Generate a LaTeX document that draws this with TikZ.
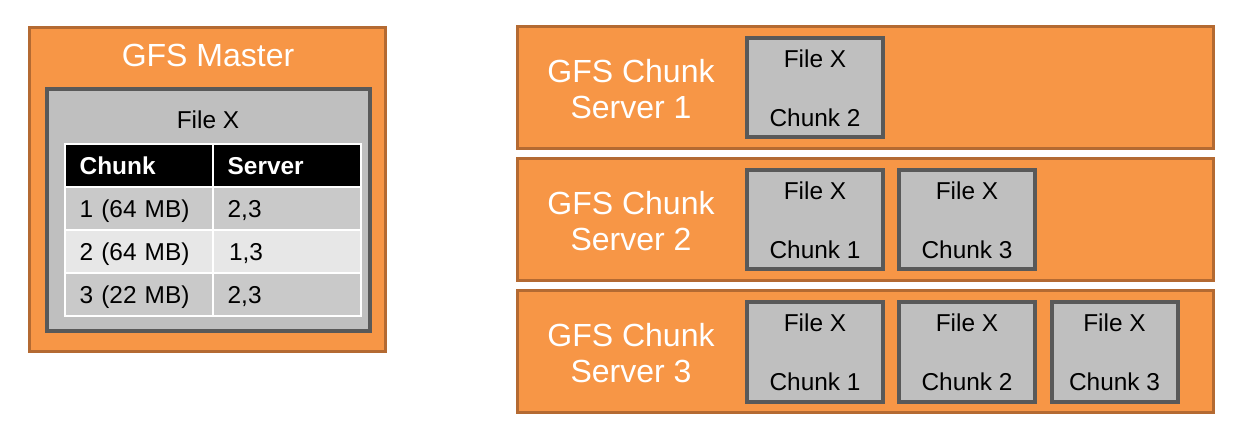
\documentclass[tikz,border=0pt]{standalone}
\usepackage{fontspec}
\setmainfont{Liberation Sans}
\usepackage{xcolor}
\usepackage{tikz}
\definecolor{gfsorange}{HTML}{F79646}
\definecolor{gfsbrown}{HTML}{B46A32}
\definecolor{gfsgray}{HTML}{BFBFBF}
\definecolor{gfsdark}{HTML}{595959}
\definecolor{rowdark}{HTML}{C9C9C9}
\definecolor{rowlight}{HTML}{E7E7E7}

\begin{document}
\begin{tikzpicture}[x=0.75pt,y=-0.75pt,
	bigfont/.style={font=\fontsize{24}{27.4}\selectfont},
	smallfont/.style={font=\fontsize{18.3}{21}\selectfont},
	orangebox/.style={draw=gfsbrown,fill=gfsorange,line width=2.25pt,inner sep=0pt},
	graybox/.style={draw=gfsdark,fill=gfsgray,line width=3pt,inner sep=0pt},
	chunkbox/.style={graybox,minimum width=102pt,minimum height=74.25pt,smallfont,align=center},
	cell/.style={draw=white,line width=1.5pt,minimum width=111pt,minimum height=32.25pt,
		inner xsep=11pt,text width=89pt,align=left,text height=13pt,text depth=0pt,smallfont},
	headcell/.style={cell,fill=black,text=white,font=\fontsize{18.3}{21}\selectfont\bfseries}]
		\useasboundingbox (0,0) rectangle (1245,434);
		%
		% master
		\node[orangebox,minimum width=267pt,minimum height=243pt] (master) at (207.5,189.5) {};
		\node[bigfont,text=white,anchor=base] (mtitle) at (208,66.7) {GFS Master};
		\node[graybox,minimum width=242.25pt,minimum height=181.5pt] (mfile) at (208.5,210) {};
		\node[smallfont,anchor=base] (mfilet) at (208,129) {File X};
		%
		\node[headcell] (h1) at (139,165.5) {Chunk};
		\node[headcell] (h2) at (287,165.5) {Server};
		\node[cell,fill=rowdark] (r1a) at (139,208.5) {1 (64 MB)};
		\node[cell,fill=rowdark] (r1b) at (287,208.5) {2,3};
		\node[cell,fill=rowlight] (r2a) at (139,251.5) {2 (64 MB)};
		\node[cell,fill=rowlight] (r2b) at (287,251.5) {\hspace{1pt}1,3};
		\node[cell,fill=rowdark] (r3a) at (139,294.5) {3 (22 MB)};
		\node[cell,fill=rowdark] (r3b) at (287,294.5) {2,3};
		%
		% chunk servers
		\node[orangebox,minimum width=522pt,minimum height=91.5pt] (srv1) at (865.5,87.5) {};
		\node[orangebox,minimum width=522pt,minimum height=91.5pt] (srv2) at (865.5,219.5) {};
		\node[orangebox,minimum width=522pt,minimum height=91.5pt] (srv3) at (865.5,351.5) {};
		\node[bigfont,text=white,align=center] (srv1t) at (631,89) {GFS Chunk\\Server 1};
		\node[bigfont,text=white,align=center] (srv2t) at (631,221) {GFS Chunk\\Server 2};
		\node[bigfont,text=white,align=center] (srv3t) at (631,353) {GFS Chunk\\Server 3};
		%
		\node[chunkbox] (s1c2) at (815,88) {File X\\[23.5pt]Chunk 2};
		\node[chunkbox] (s2c1) at (815,220) {File X\\[23.5pt]Chunk 1};
		\node[chunkbox] (s2c3) at (967,220) {File X\\[23.5pt]Chunk 3};
		\node[chunkbox] (s3c1) at (815,352) {File X\\[23.5pt]Chunk 1};
		\node[chunkbox] (s3c2) at (967,352) {File X\\[23.5pt]Chunk 2};
		\node[chunkbox,minimum width=94.5pt] (s3c3) at (1114.5,352) {File X\\[23.5pt]Chunk 3};
\end{tikzpicture}
\end{document}
